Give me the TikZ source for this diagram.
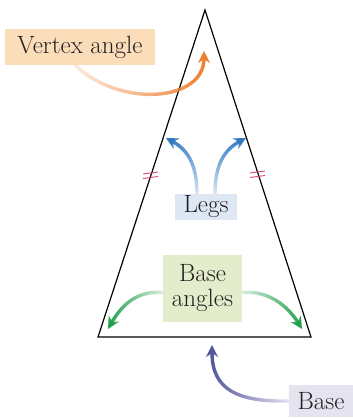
\documentclass[tikz,border=0pt]{standalone}
\usetikzlibrary{arrows.meta,fadings}
\definecolor{peach}{HTML}{FCDDBA}
\definecolor{vorange}{HTML}{EE7F32}
\definecolor{legbox}{HTML}{DDE8F4}
\definecolor{legblue}{HTML}{2F78BE}
\definecolor{angbox}{HTML}{E3EDCB}
\definecolor{anggreen}{HTML}{1E9E4A}
\definecolor{basebox}{HTML}{E4E4F1}
\definecolor{baseblue}{HTML}{55559F}
\definecolor{tickred}{HTML}{D8457A}
\definecolor{txt}{HTML}{231F20}
\tikzfading[name=fadeFromLeft, left color=transparent!85, right color=transparent!0]
\tikzfading[name=fadeFromRight, left color=transparent!0, right color=transparent!85]
\tikzfading[name=fadeFromBottom, bottom color=transparent!85, top color=transparent!0]
\begin{document}
\begin{tikzpicture}[x=1pt,y=-1pt,
  lbl/.style={inner sep=0pt, text=txt, font=\fontsize{25}{25}\selectfont, align=center},
  fatarrow/.style={line width=3.4pt, -{Stealth[length=12pt,width=12pt]}},
  tickmark/.style={tickred, line width=0.9pt}]
\useasboundingbox (0,0) rectangle (353,418);
% triangle
\coordinate (A) at (205,10);
\coordinate (B) at (98,337);
\coordinate (C) at (311,337);
\draw[line width=1.2pt, line join=miter] (A) -- (B) -- (C) -- cycle;
% tick marks
\draw[tickmark] (143,174) -- (158,172);
\draw[tickmark] (143,178.5) -- (158,176.5);
\draw[tickmark] (250,173) -- (265,171);
\draw[tickmark] (250,177.5) -- (265,175.5);
% labels
\node[lbl, fill=peach, minimum width=150pt, minimum height=36pt] (va) at (80,47) {Vertex angle};
\node[lbl, fill=legbox, minimum width=62pt, minimum height=26pt] (legs) at (206,207) {Legs};
\node[lbl, fill=angbox, minimum width=79pt, minimum height=67pt] (ba) at (202.5,288.5) {Base\\angles};
\node[lbl, fill=basebox, minimum width=64pt, minimum height=32pt] (base) at (321,401) {Base};
% arrow tips
\coordinate (vt) at (204,51);
\coordinate (lt) at (166,138);
\coordinate (rt) at (246,138);
\coordinate (gl) at (108,329);
\coordinate (gr) at (302,329);
\coordinate (bt) at (212,345);
% arrows
\draw[fatarrow, vorange, path fading=fadeFromLeft] ([xshift=-5pt]va.south) .. controls (120,108) and (204,102) .. (vt);
\draw[fatarrow, legblue, path fading=fadeFromBottom] ([xshift=-9pt]legs.north) .. controls (197,165) and (188,150) .. (lt);
\draw[fatarrow, legblue, path fading=fadeFromBottom] ([xshift=9pt]legs.north) .. controls (215,165) and (224,150) .. (rt);
\draw[fatarrow, anggreen, path fading=fadeFromRight] ([yshift=-4pt]ba.west) .. controls (135,290) and (120,308) .. (gl);
\draw[fatarrow, anggreen, path fading=fadeFromLeft] ([yshift=-4pt]ba.east) .. controls (270,290) and (289,308) .. (gr);
\draw[fatarrow, baseblue, path fading=fadeFromRight] (base.west) .. controls (238,402) and (212,390) .. (bt);
\end{tikzpicture}
\end{document}
